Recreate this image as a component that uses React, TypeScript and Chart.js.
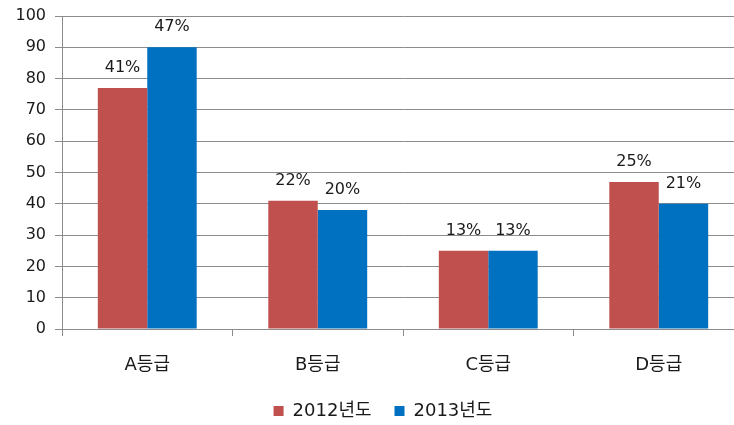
import React, { useEffect, useRef } from "react";
import { Chart, registerables } from "chart.js";

Chart.register(...registerables);

const categories = ["A등급", "B등급", "C등급", "D등급"];
const series2012 = [77, 41, 25, 47];
const series2013 = [90, 38, 25, 40];
const labels2012 = ["41%", "22%", "13%", "25%"];
const labels2013 = ["47%", "20%", "13%", "21%"];
const seriesNames = ["2012년도", "2013년도"];
const yTicks = [0, 10, 20, 30, 40, 50, 60, 70, 80, 90, 100];

const FONT = "'DejaVu Sans', 'Noto Sans CJK KR', sans-serif";
const TEXT = "#1a1a1a";
const GRID = "#8c8c8c";

const dataLabelPlugin = {
  id: "pctLabels",
  afterDatasetsDraw(chart: any) {
    const ctx = chart.ctx;
    const sets = [labels2012, labels2013];
    ctx.save();
    ctx.font = `16px ${FONT}`;
    ctx.fillStyle = TEXT;
    ctx.textAlign = "center";
    ctx.textBaseline = "middle";
    chart.data.datasets.forEach((_: any, di: number) => {
      const meta = chart.getDatasetMeta(di);
      meta.data.forEach((bar: any, i: number) => {
        ctx.fillText(sets[di][i], bar.x, bar.y - 20);
      });
    });
    ctx.restore();
  },
};

const legendShift = {
  id: "legendShift",
  afterLayout(chart: any) {
    if (chart.legend) {
      chart.legend.left += 11;
      chart.legend.right += 11;
    }
  },
};

export default function App() {
  const ref = useRef<HTMLCanvasElement>(null);
  useEffect(() => {
    const chart = new Chart(ref.current!, {
      type: "bar",
      data: {
        labels: categories,
        datasets: [
          { label: seriesNames[0], data: series2012, backgroundColor: "#C0504D" },
          { label: seriesNames[1], data: series2013, backgroundColor: "#0070C0" },
        ],
      },
      options: {
        animation: false,
        responsive: false,
        maintainAspectRatio: false,
        datasets: { bar: { categoryPercentage: 0.58, barPercentage: 1 } },
        layout: { padding: { top: 16, right: 0, left: 0, bottom: -5 } },
        plugins: {
          tooltip: { enabled: false },
          legend: {
            position: "bottom",
            labels: {
              font: { family: FONT, size: 18 },
              color: TEXT,
              boxWidth: 10,
              boxHeight: 10,
              padding: 23,
            },
          },
        },
        scales: {
          x: {
            afterFit(scale: any) {
              scale.height = 50;
            },
            grid: { drawOnChartArea: false, drawTicks: true, tickLength: 7, color: GRID, offset: true },
            border: { color: GRID },
            ticks: { font: { family: FONT, size: 18 }, color: TEXT, padding: 19 },
          },
          y: {
            min: 0,
            max: 100,
            afterFit(scale: any) {
              scale.width = 62;
              scale.paddingTop = 0;
              scale.paddingBottom = 0;
            },
            afterBuildTicks(scale: any) {
              scale.ticks = yTicks.map((v) => ({ value: v }));
            },
            grid: { color: GRID, tickLength: 7 },
            border: { color: GRID },
            ticks: { font: { family: FONT, size: 16 }, color: TEXT, padding: 9 },
          },
        },
      },
      plugins: [dataLabelPlugin, legendShift],
    });
    return () => chart.destroy();
  }, []);
  return (
    <div style={{ position: "absolute", left: 0, top: 0, width: 734, height: 425, overflow: "hidden", background: "#fff" }}>
      <canvas ref={ref} width={744} height={425} style={{ display: "block" }} />
    </div>
  );
}
